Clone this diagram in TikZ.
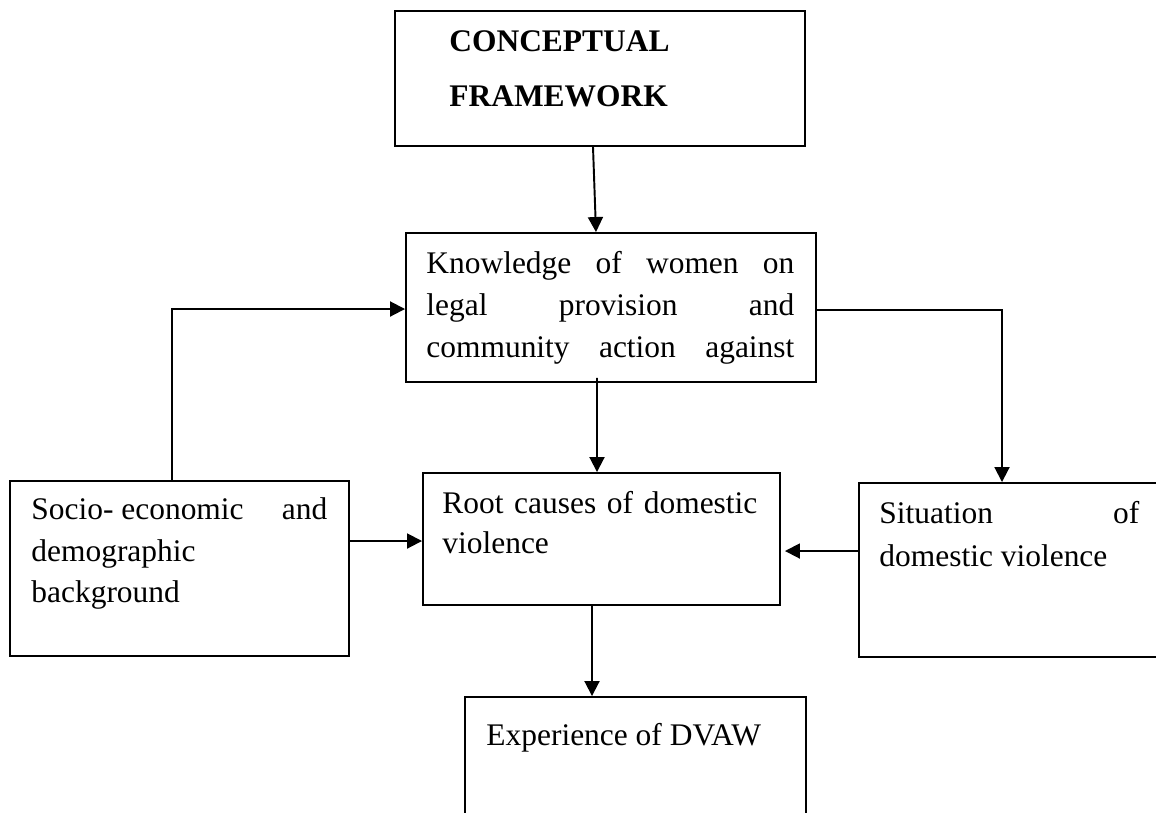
\documentclass[tikz,border=0pt]{standalone}
\usepackage{fontspec}
\setmainfont{Liberation Serif}
\usetikzlibrary{arrows.meta,positioning}

\begin{document}
\begin{tikzpicture}[
    box/.style={draw, line width=1.1pt, inner sep=0pt},
    txt/.style={inner sep=0pt, align=left, font=\fontsize{17.9}{#1}\selectfont},
    txt/.default=23.9pt,
    arr/.style={-{Triangle[length=0.3cm,width=0.3cm]}, line width=1.1pt}
]
\useasboundingbox (0,0) rectangle (23.12,-16.24);

% boxes
\node[box, minimum width=8.2cm, minimum height=2.7cm] (title) at (12,-1.57) {};
\node[box, minimum width=8.2cm, minimum height=2.98cm] (know) at (12.22,-6.15) {};
\node[box, minimum width=7.14cm, minimum height=2.64cm] (root) at (12.03,-10.78) {};
\node[box, minimum width=6.78cm, minimum height=3.5cm] (socio) at (3.59,-11.37) {};
\node[box, minimum width=6.02cm, minimum height=3.48cm] (sit) at (20.19,-11.4) {};
\node[box, minimum width=6.82cm, minimum height=2.66cm] (exp) at (12.71,-15.27) {};

% texts
\node[txt=31.3pt, below right=0.4cm and 1.1cm of title.north west] (title-t)
    {\textbf{CONCEPTUAL}\\\textbf{FRAMEWORK}};
\node[txt, below right=0.37cm and 0.42cm of know.north west] (know-t)
    {\makebox[7.36cm][s]{Knowledge of women on}\\
     \makebox[7.36cm][s]{legal provision and}\\
     \makebox[7.36cm][s]{community action against}};
\node[txt=22.8pt, below right=0.37cm and 0.4cm of root.north west] (root-t)
    {\makebox[6.3cm][s]{Root causes of domestic}\\violence};
\node[txt=23.6pt, below right=0.35cm and 0.44cm of socio.north west] (socio-t)
    {\makebox[5.92cm]{Socio- economic\hfill and}\\demographic\\background};
\node[txt=24.5pt, below right=0.37cm and 0.42cm of sit.north west] (sit-t)
    {\makebox[5.2cm]{Situation\hfill of}\\domestic violence};
\node[txt, below right=0.54cm and 0.44cm of exp.north west] (exp-t)
    {Experience of DVAW};

% connectors
\draw[arr] ([xshift=-0.14cm]title.south) -- ([xshift=-0.3cm]know.north);
\draw[arr] ([xshift=-0.28cm,yshift=0.1cm]know.south) -- ([xshift=-0.09cm]root.north);
\draw[arr] ([xshift=-0.15cm]socio.north) |- ([yshift=-0.03cm]know.west);
\draw[arr] ([yshift=-0.05cm]know.east) -| ([xshift=-0.15cm]sit.north);
\draw[arr] ([yshift=0.55cm]socio.east) -- ([yshift=-0.04cm]root.west);
\draw[arr] ([yshift=0.38cm]sit.west) -- ([xshift=0.08cm,yshift=-0.24cm]root.east);
\draw[arr] ([xshift=-0.19cm]root.south) -- ([xshift=-0.87cm]exp.north);
\end{tikzpicture}
\end{document}
